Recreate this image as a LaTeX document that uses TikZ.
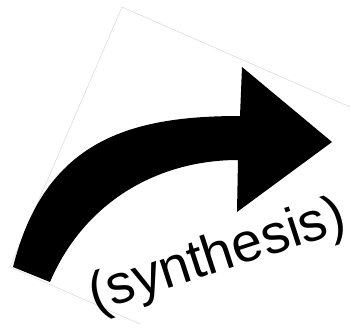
\documentclass[tikz,border=0pt]{standalone}
\usepackage{fontspec}
\setmainfont{Liberation Sans}
\begin{document}
\begin{tikzpicture}[x=1pt,y=-1pt,
  frameline/.style={draw=black!18,line width=0.4pt},
  bigarrow/.style={fill=black,draw=none},
  synlabel/.style={inner sep=0pt,anchor=base,rotate=18,font=\fontsize{55}{66}\selectfont}]
\useasboundingbox (0,0) rectangle (350,331);
\begin{scope}
\clip (0,0) rectangle (350,331);
\draw[frameline] (350,107) -- (122,7) -- (10,267) -- (140,324);
\end{scope}
\fill[bigarrow] (13,267) .. controls (45,140) and (130,116) .. (240,116)
  -- (242,67) -- (332,142) -- (237,212) -- (238,160)
  .. controls (160,160) and (85,200) .. (50,282) -- cycle;
\node[synlabel] (syn) at (222,271) {(synthesis)};
\end{tikzpicture}
\end{document}
